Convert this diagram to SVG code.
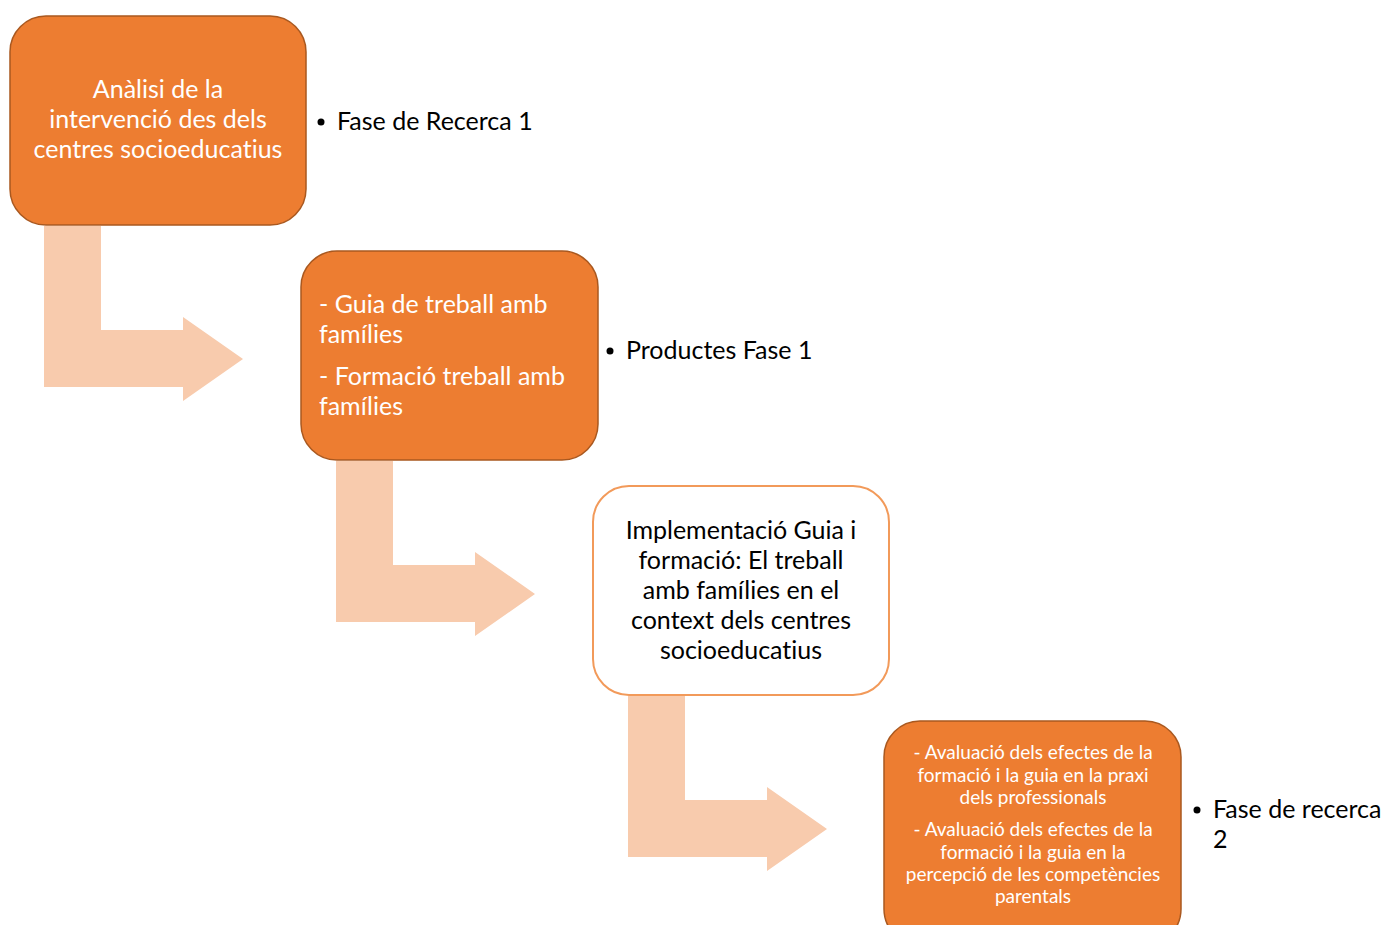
<svg xmlns="http://www.w3.org/2000/svg" width="1387" height="925" viewBox="0 0 1387 925">
  <style>
    .box { fill: #ED7D31; stroke: #A9581F; stroke-width: 1.5; }
    .box-light { fill: #FFFFFF; stroke: #F29A5A; stroke-width: 2; }
    .flow { fill: #F8CBAD; }
    .t { font-family: Lato, "Open Sans", sans-serif; font-variant-ligatures: none; }
    .white { fill: #FFFFFF; }
    .black { fill: #000000; }
    .big { font-size: 25px; }
    .small { font-size: 19px; }
    .mid { text-anchor: middle; }
  </style>
  <defs>
    <!-- bent arrow: down then right -->
    <path id="bent" d="M0,0 H57 V104 H139 V91 L199,133 L139,175 V161 H0 Z"/>
  </defs>

  <rect width="1387" height="925" fill="#FFFFFF"/>

  <g id="connectors">
    <use href="#bent" class="flow" x="44" y="226"/>
    <use href="#bent" class="flow" x="336" y="461"/>
    <use href="#bent" class="flow" x="628" y="696"/>
  </g>

  <g id="node-analisi">
    <rect class="box" x="10" y="16" width="296" height="209" rx="36"/>
    <text class="t big white mid" x="158" y="98">Anàlisi de la</text>
    <text class="t big white mid" x="158" y="128">intervenció des dels</text>
    <text class="t big white mid" x="158" y="158">centres socioeducatius</text>
  </g>
  <g id="label-fase1">
    <circle cx="321" cy="122" r="3.5" fill="#000"/>
    <text class="t big black" x="337" y="130">Fase de Recerca 1</text>
  </g>

  <g id="node-productes">
    <rect class="box" x="301" y="251" width="297" height="209" rx="36"/>
    <text class="t big white" x="319" y="313">- Guia de treball amb</text>
    <text class="t big white" x="319" y="343">famílies</text>
    <text class="t big white" x="319" y="385">- Formació treball amb</text>
    <text class="t big white" x="319" y="415">famílies</text>
  </g>
  <g id="label-productes">
    <circle cx="610" cy="351" r="3.5" fill="#000"/>
    <text class="t big black" x="626" y="359">Productes Fase 1</text>
  </g>

  <g id="node-implementacio">
    <rect class="box-light" x="593" y="486" width="296" height="209" rx="36"/>
    <text class="t big black mid" x="741" y="539">Implementació Guia i</text>
    <text class="t big black mid" x="741" y="569">formació: El treball</text>
    <text class="t big black mid" x="741" y="599">amb famílies en el</text>
    <text class="t big black mid" x="741" y="629">context dels centres</text>
    <text class="t big black mid" x="741" y="659">socioeducatius</text>
  </g>

  <g id="node-avaluacio">
    <rect class="box" x="884" y="721" width="297" height="224" rx="36"/>
    <text class="t small white mid" x="1033" y="759">- Avaluació dels efectes de la</text>
    <text class="t small white mid" x="1033" y="782">formació i la guia en la praxi</text>
    <text class="t small white mid" x="1033" y="804">dels professionals</text>
    <text class="t small white mid" x="1033" y="836">- Avaluació dels efectes de la</text>
    <text class="t small white mid" x="1033" y="859">formació i la guia en la</text>
    <text class="t small white mid" x="1033" y="881">percepció de les competències</text>
    <text class="t small white mid" x="1033" y="903">parentals</text>
  </g>
  <g id="label-fase2">
    <circle cx="1197" cy="810" r="3.5" fill="#000"/>
    <text class="t big black" x="1213" y="818">Fase de recerca</text>
    <text class="t big black" x="1213" y="848">2</text>
  </g>
</svg>
